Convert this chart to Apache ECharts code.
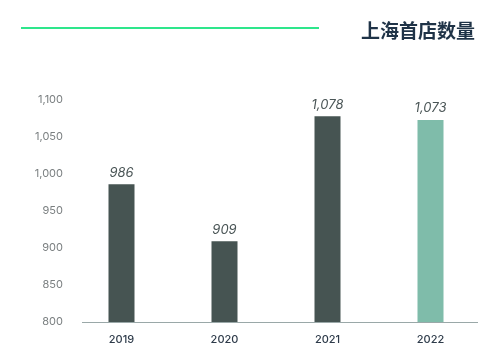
<!DOCTYPE html>
<html><head><meta charset="utf-8">
<script src="https://cdn.jsdelivr.net/npm/echarts@6/dist/echarts.min.js"></script>
<style>html,body{margin:0;padding:0;background:#fff}#c{width:500px;height:362px}</style>
</head><body><div id="c"></div>
<script>
const categories = ['2019', '2020', '2021', '2022'];
const values = [986, 909, 1078, 1073];
const yTicks = [800, 850, 900, 950, 1000, 1050, 1100];
const title = '上海首店数量';

const barColors = ['#465452', '#465452', '#465452', '#7fbcaa'];
const chart = echarts.init(document.getElementById('c'));
chart.setOption({
  animation: false,
  title: {
    text: title, right: 20, top: 16,
    textStyle: {fontFamily: 'Noto Sans CJK SC', fontSize: 19, fontWeight: 'bold', color: '#1f3347'}
  },
  graphic: [
    {type: 'line', shape: {x1: 21, y1: 28, x2: 319, y2: 28}, style: {stroke: '#2ee68c', lineWidth: 2}},
    {type: 'line', shape: {x1: 82, y1: 322.5, x2: 478, y2: 322.5}, style: {stroke: '#9aa8a8', lineWidth: 1}, z: 10}
  ],
  grid: {left: 70, right: 18, top: 100, bottom: 40},
  xAxis: {
    type: 'category', data: categories,
    axisLine: {show: false}, axisTick: {show: false},
    axisLabel: {margin: 12, fontFamily: 'Inter', fontSize: 11, fontWeight: 500, color: '#2e3b4a'}
  },
  yAxis: {
    type: 'value', min: yTicks[0], max: yTicks[yTicks.length - 1], interval: 50,
    splitLine: {show: false}, axisLine: {show: false}, axisTick: {show: false},
    axisLabel: {margin: 7, fontFamily: 'Inter', fontSize: 11, color: '#7a7f80',
      formatter: v => v.toLocaleString('en-US')}
  },
  series: [{
    type: 'bar', barWidth: 26,
    data: values.map((v, i) => ({value: v, itemStyle: {color: barColors[i]}})),
    label: {
      show: true, position: 'top', distance: 5,
      fontFamily: 'Inter', fontSize: 13, fontStyle: 'italic', color: '#4a5556',
      formatter: p => p.value.toLocaleString('en-US')
    }
  }]
});
</script></body></html>
